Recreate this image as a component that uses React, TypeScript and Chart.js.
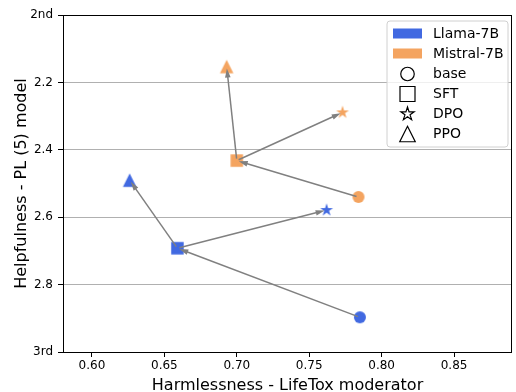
import React, { useEffect, useRef } from 'react';
import { Chart, registerables } from 'chart.js';
Chart.register(...registerables);

const methods = ['base', 'SFT', 'DPO', 'PPO'];
const models = ['Llama-7B', 'Mistral-7B'];
const modelColors = ['#4169E1', '#F4A460'];
const llamaX = [0.785, 0.659, 0.762, 0.626];
const llamaY = [2.897, 2.692, 2.579, 2.49];
const mistralX = [0.784, 0.7, 0.773, 0.693];
const mistralY = [2.54, 2.432, 2.289, 2.153];
const arrowPairs = [[0, 1], [1, 2], [1, 3]];
const xTicks = [0.6, 0.65, 0.7, 0.75, 0.8, 0.85];
const yTicks = [2.0, 2.2, 2.4, 2.6, 2.8, 3.0];
const yTickLabels = ['2nd', '2.2', '2.4', '2.6', '2.8', '3rd'];

const FONT = "'DejaVu Sans', sans-serif";
const shapes = ['circle', 'square', 'star', 'triangle'];
const plotSizes = [12, 12.5, 13.5, 13.5];
const legendSizes = [13.5, 15, 14, 15.5];

function tracePath(ctx: CanvasRenderingContext2D, shape: string, cx: number, cy: number, size: number) {
  const h = size / 2;
  ctx.beginPath();
  if (shape === 'circle') {
    ctx.arc(cx, cy, h, 0, Math.PI * 2);
  } else if (shape === 'square') {
    ctx.rect(cx - h, cy - h, size, size);
  } else if (shape === 'star') {
    const inner = h * 0.382;
    for (let i = 0; i < 10; i++) {
      const r = i % 2 === 0 ? h : inner;
      const a = -Math.PI / 2 + (i * Math.PI) / 5;
      const px = cx + r * Math.cos(a);
      const py = cy + r * Math.sin(a);
      if (i === 0) ctx.moveTo(px, py);
      else ctx.lineTo(px, py);
    }
    ctx.closePath();
  } else {
    ctx.moveTo(cx, cy - h);
    ctx.lineTo(cx + h, cy + h);
    ctx.lineTo(cx - h, cy + h);
    ctx.closePath();
  }
}

function makeMarker(shape: string, size: number, color: string): HTMLCanvasElement {
  const c = document.createElement('canvas');
  const dim = Math.ceil(size) + 4;
  c.width = dim;
  c.height = dim;
  const ctx = c.getContext('2d')!;
  tracePath(ctx, shape, dim / 2, dim / 2, size);
  ctx.fillStyle = color;
  ctx.fill();
  return c;
}

const arrowPlugin = {
  id: 'arrows',
  afterDatasetsDraw(chart: any) {
    const { ctx, scales } = chart;
    const sets = [
      [llamaX, llamaY],
      [mistralX, mistralY],
    ];
    ctx.save();
    ctx.strokeStyle = '#808080';
    ctx.fillStyle = '#808080';
    ctx.lineWidth = 1.5;
    for (const [xs, ys] of sets) {
      for (const [a, b] of arrowPairs) {
        const x1 = scales.x.getPixelForValue(xs[a]);
        const y1 = scales.y.getPixelForValue(ys[a]);
        const x2 = scales.x.getPixelForValue(xs[b]);
        const y2 = scales.y.getPixelForValue(ys[b]);
        const dx = x2 - x1;
        const dy = y2 - y1;
        const len = Math.hypot(dx, dy);
        const ux = dx / len;
        const uy = dy / len;
        const shrink = 2;
        const sx = x1 + ux * shrink;
        const sy = y1 + uy * shrink;
        const tx = x2 - ux * shrink;
        const ty = y2 - uy * shrink;
        const headLen = 9;
        const headW = 2.8;
        const bx = tx - ux * headLen;
        const by = ty - uy * headLen;
        ctx.beginPath();
        ctx.moveTo(sx, sy);
        ctx.lineTo(bx + ux * 1, by + uy * 1);
        ctx.stroke();
        ctx.beginPath();
        ctx.moveTo(tx, ty);
        ctx.lineTo(bx - uy * headW, by + ux * headW);
        ctx.lineTo(bx + uy * headW, by - ux * headW);
        ctx.closePath();
        ctx.fill();
      }
    }
    ctx.restore();
  },
};

const framePlugin = {
  id: 'frameLegend',
  afterDraw(chart: any) {
    const { ctx, chartArea } = chart;
    ctx.save();
    ctx.strokeStyle = '#000';
    ctx.lineWidth = 1;
    const l = Math.round(chartArea.left) + 0.5;
    const t = Math.round(chartArea.top) + 0.5;
    const r = Math.round(chartArea.right) - 0.5;
    const b = Math.round(chartArea.bottom) + 0.5;
    ctx.strokeRect(l, t, r - l, b - t);

    // legend
    const lx = 387, ly = 21, lw = 121, lh = 126, rad = 3;
    ctx.beginPath();
    ctx.moveTo(lx + rad, ly);
    ctx.arcTo(lx + lw, ly, lx + lw, ly + lh, rad);
    ctx.arcTo(lx + lw, ly + lh, lx, ly + lh, rad);
    ctx.arcTo(lx, ly + lh, lx, ly, rad);
    ctx.arcTo(lx, ly, lx + lw, ly, rad);
    ctx.closePath();
    ctx.fillStyle = 'rgba(255,255,255,0.8)';
    ctx.fill();
    ctx.strokeStyle = '#d0d0d0';
    ctx.lineWidth = 1;
    ctx.stroke();

    const rowY = [33.5, 53.5, 74, 94, 114, 134];
    ctx.font = `14px ${FONT}`;
    ctx.textBaseline = 'middle';
    ctx.textAlign = 'left';
    models.forEach((m, i) => {
      ctx.fillStyle = modelColors[i];
      ctx.fillRect(393, rowY[i] - 5, 29, 10);
      ctx.fillStyle = '#000';
      ctx.fillText(m, 433, rowY[i] + 0.5);
    });
    methods.forEach((m, i) => {
      const y = rowY[i + 2];
      tracePath(ctx, shapes[i], 407.5, y, legendSizes[i]);
      ctx.strokeStyle = '#000';
      ctx.lineWidth = 1.2;
      ctx.stroke();
      ctx.fillStyle = '#000';
      ctx.fillText(m, 433, y + 0.5);
    });
    ctx.restore();
  },
};

export default function App() {
  const ref = useRef<HTMLCanvasElement>(null);
  useEffect(() => {
    if (!ref.current) return;
    Chart.defaults.font.family = FONT;
    const llamaStyles = shapes.map((s, i) => makeMarker(s, plotSizes[i], modelColors[0]));
    const mistralStyles = shapes.map((s, i) => makeMarker(s, plotSizes[i], modelColors[1]));
    const chart = new Chart(ref.current, {
      type: 'scatter',
      data: {
        datasets: [
          {
            label: models[0],
            data: llamaX.map((x, i) => ({ x, y: llamaY[i] })),
            pointStyle: llamaStyles as any,
            backgroundColor: modelColors[0],
            borderColor: modelColors[0],
            borderWidth: 0,
            pointBorderWidth: 0,
          },
          {
            label: models[1],
            data: mistralX.map((x, i) => ({ x, y: mistralY[i] })),
            pointStyle: mistralStyles as any,
            backgroundColor: modelColors[1],
            borderColor: modelColors[1],
            borderWidth: 0,
            pointBorderWidth: 0,
          },
        ],
      },
      options: {
        animation: false,
        responsive: false,
        devicePixelRatio: 1,
        layout: { padding: { top: 15, right: 1, left: 0, bottom: 0 } },
        plugins: { legend: { display: false }, tooltip: { enabled: false } },
        scales: {
          x: {
            type: 'linear',
            min: 0.58,
            max: 0.89,
            afterBuildTicks: (s: any) => {
              s.ticks = xTicks.map((v) => ({ value: v }));
            },
            afterFit: (s: any) => {
              s.height = 40;
            },
            grid: { drawOnChartArea: false, tickLength: 5, tickColor: '#000', tickWidth: 1 },
            border: { display: false },
            ticks: {
              font: { family: FONT, size: 12 },
              color: '#000',
              padding: 2,
              maxRotation: 0,
              autoSkip: false,
              callback: (v: any) => Number(v).toFixed(2),
            },
            title: {
              display: true,
              text: 'Harmlessness - LifeTox moderator',
              font: { family: FONT, size: 16 },
              color: '#000',
              padding: { top: 0, bottom: -3 },
            },
          },
          y: {
            type: 'linear',
            reverse: true,
            min: 2,
            max: 3,
            afterBuildTicks: (s: any) => {
              s.ticks = yTicks.map((v) => ({ value: v }));
            },
            afterFit: (s: any) => {
              s.width = 63;
            },
            grid: { color: '#b0b0b0', lineWidth: 1, tickLength: 5, tickColor: '#000', tickWidth: 1 },
            border: { display: false },
            ticks: {
              font: { family: FONT, size: 12 },
              color: '#000',
              padding: 5,
              autoSkip: false,
              callback: (_v: any, i: number) => yTickLabels[i],
            },
            title: {
              display: true,
              text: 'Helpfulness - PL (5) model',
              font: { family: FONT, size: 16 },
              color: '#000',
              padding: { top: 12, bottom: 0 },
            },
          },
        },
      },
      plugins: [arrowPlugin, framePlugin],
    });
    return () => chart.destroy();
  }, []);
  return (
    <div style={{ position: 'absolute', left: 0, top: 0, width: 516, height: 392, background: '#fff' }}>
      <canvas ref={ref} width={516} height={392} style={{ display: 'block', width: 516, height: 392 }} />
    </div>
  );
}
